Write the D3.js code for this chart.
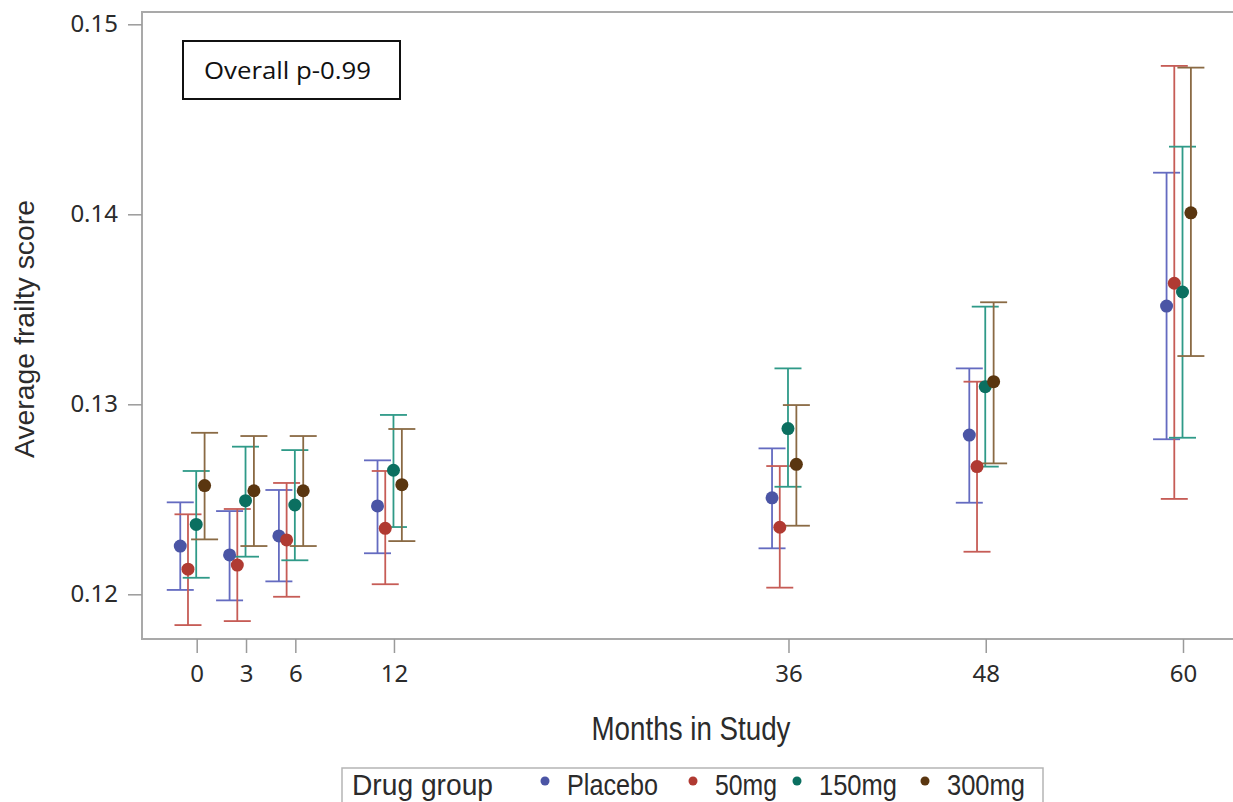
<!DOCTYPE html>
<html><head><meta charset="utf-8">
<script src="https://cdn.jsdelivr.net/npm/d3@7"></script>
<style>body{margin:0;background:#fff}svg{display:block}</style>
</head><body>
<svg id="c" width="1233" height="802"></svg>
<script>
// ---------- data ----------
const months = [0, 3, 6, 12, 36, 48, 60];
const groups = ["Placebo", "50mg", "150mg", "300mg"];

const placeboMean = [0.12254, 0.12207, 0.12307, 0.12465, 0.12508, 0.12838, 0.13517];
const placeboLow  = [0.12023, 0.11968, 0.12068, 0.12216, 0.12242, 0.12482, 0.12816];
const placeboHigh = [0.12484, 0.12438, 0.12549, 0.12705, 0.12768, 0.13189, 0.14219];

const mg50Mean = [0.12132, 0.12154, 0.12286, 0.12347, 0.12353, 0.12672, 0.13637];
const mg50Low  = [0.11838, 0.11859, 0.11987, 0.12053, 0.12035, 0.12224, 0.12502];
const mg50High = [0.12421, 0.12449, 0.12586, 0.12649, 0.12675, 0.13119, 0.14781];

const mg150Mean = [0.12368, 0.12493, 0.12470, 0.12653, 0.12872, 0.13093, 0.13591];
const mg150Low  = [0.12087, 0.12198, 0.12179, 0.12354, 0.12566, 0.12672, 0.12824];
const mg150High = [0.12649, 0.12777, 0.12759, 0.12944, 0.13189, 0.13514, 0.14356];

const mg300Mean = [0.12572, 0.12545, 0.12545, 0.12577, 0.12684, 0.13119, 0.14008];
const mg300Low  = [0.12289, 0.12254, 0.12254, 0.12280, 0.12361, 0.12689, 0.13254];
const mg300High = [0.12850, 0.12833, 0.12833, 0.12870, 0.12996, 0.13537, 0.14772];

const yTicks = [0.12, 0.13, 0.14, 0.15];
const xTicks = [0, 3, 6, 12, 36, 48, 60];
const annotation = "Overall p-0.99";
const legendTitle = "Drug group";

// ---------- style / layout ----------
const dotColors = ["#4b55a5", "#b03a32", "#0b6f60", "#5a3610"];
const barColors = ["#646bc0", "#c65c56", "#2f9a88", "#8a6a44"];
const dodge = [-1.0, -0.53, -0.03, 0.48]; // months offset within a cluster
const series = [
  {mean: placeboMean, low: placeboLow, high: placeboHigh},
  {mean: mg50Mean, low: mg50Low, high: mg50High},
  {mean: mg150Mean, low: mg150Low, high: mg150High},
  {mean: mg300Mean, low: mg300Low, high: mg300High}
];

const svg = d3.select("#c");
const frame = {left: 142, top: 12, right: 1245, bottom: 639};

const x = d3.scaleLinear().domain([0, 60]).range([196.7, 1183]);
const y = d3.scaleLinear().domain([0.12, 0.14]).range([594.3, 214.3]);

// frame
svg.append("rect")
  .attr("x", frame.left).attr("y", frame.top)
  .attr("width", frame.right - frame.left).attr("height", frame.bottom - frame.top)
  .attr("fill", "none").attr("stroke", "#a9a9a9").attr("stroke-width", 2);

// y axis
const yAxis = svg.append("g").attr("transform", `translate(${frame.left},0)`)
  .call(d3.axisLeft(y).tickValues(yTicks).tickFormat(d3.format(".2f")).tickSize(14).tickPadding(10));
yAxis.select(".domain").remove();
yAxis.selectAll(".tick line").attr("stroke", "#9a9a9a").attr("stroke-width", 1.5);
yAxis.selectAll(".tick text").attr("fill", "#2b2b2b")
  .style("font-family", "'Noto Sans', 'Open Sans', sans-serif").style("font-size", "24px");

// x axis
const xAxis = svg.append("g").attr("transform", `translate(0,${frame.bottom})`)
  .call(d3.axisBottom(x).tickValues(xTicks).tickFormat(d3.format("d")).tickSize(14).tickPadding(12));
xAxis.select(".domain").remove();
xAxis.selectAll(".tick line").attr("stroke", "#9a9a9a").attr("stroke-width", 1.5);
xAxis.selectAll(".tick text").attr("fill", "#2b2b2b")
  .style("font-family", "'Noto Sans', 'Open Sans', sans-serif").style("font-size", "24px");

// axis titles
svg.append("text")
  .attr("x", 691).attr("y", 740).attr("text-anchor", "middle")
  .attr("textLength", 199).attr("lengthAdjust", "spacingAndGlyphs")
  .style("font-family", "'Liberation Sans', Arial, sans-serif").style("font-size", "33px")
  .attr("fill", "#2b2b2b").text("Months in Study");

svg.append("text")
  .attr("transform", "translate(34,329) rotate(-90)").attr("text-anchor", "middle")
  .attr("textLength", 258).attr("lengthAdjust", "spacingAndGlyphs")
  .style("font-family", "'Liberation Sans', Arial, sans-serif").style("font-size", "27px")
  .attr("fill", "#2b2b2b").text("Average frailty score");

// error bars and points
const capHalf = 13.5;
series.forEach((s, gi) => {
  const g = svg.append("g");
  const pts = months.map((m, i) => ({m, mean: s.mean[i], low: s.low[i], high: s.high[i]}));
  const cx = d => x(d.m + dodge[gi]);
  g.selectAll("line.v").data(pts).join("line")
    .attr("x1", cx).attr("x2", cx).attr("y1", d => y(d.low)).attr("y2", d => y(d.high))
    .attr("stroke", barColors[gi]).attr("stroke-width", 1.8);
  g.selectAll("line.t").data(pts).join("line")
    .attr("x1", d => cx(d) - capHalf).attr("x2", d => cx(d) + capHalf)
    .attr("y1", d => y(d.high)).attr("y2", d => y(d.high))
    .attr("stroke", barColors[gi]).attr("stroke-width", 1.8);
  g.selectAll("line.b").data(pts).join("line")
    .attr("x1", d => cx(d) - capHalf).attr("x2", d => cx(d) + capHalf)
    .attr("y1", d => y(d.low)).attr("y2", d => y(d.low))
    .attr("stroke", barColors[gi]).attr("stroke-width", 1.8);
});
series.forEach((s, gi) => {
  svg.append("g").selectAll("circle").data(months.map((m, i) => ({m, v: s.mean[i]}))).join("circle")
    .attr("cx", d => x(d.m + dodge[gi])).attr("cy", d => y(d.v)).attr("r", 6.5)
    .attr("fill", dotColors[gi]);
});

// annotation box
svg.append("rect").attr("x", 183).attr("y", 41).attr("width", 217).attr("height", 58)
  .attr("fill", "#fff").attr("stroke", "#111").attr("stroke-width", 2);
svg.append("text").attr("x", 204).attr("y", 79)
  .attr("textLength", 167).attr("lengthAdjust", "spacingAndGlyphs")
  .style("font-family", "'Open Sans', 'Noto Sans', sans-serif").style("font-size", "24px")
  .attr("fill", "#111").text(annotation);

// legend
svg.append("rect").attr("x", 342).attr("y", 768).attr("width", 701).attr("height", 50)
  .attr("fill", "#fff").attr("stroke", "#b5b5b5").attr("stroke-width", 1.5);
const legFont = "'Liberation Sans', Arial, sans-serif";
svg.append("text").attr("x", 352).attr("y", 795)
  .attr("textLength", 141).attr("lengthAdjust", "spacingAndGlyphs")
  .style("font-family", legFont).style("font-size", "30px").attr("fill", "#2b2b2b").text(legendTitle);
const legDotX = [545, 693, 797, 925];
const legTextLen = [91, 62, 78, 78];
groups.forEach((name, gi) => {
  svg.append("circle").attr("cx", legDotX[gi]).attr("cy", 781).attr("r", 4.5).attr("fill", dotColors[gi]);
  svg.append("text").attr("x", legDotX[gi] + 22).attr("y", 795)
    .attr("textLength", legTextLen[gi]).attr("lengthAdjust", "spacingAndGlyphs")
    .style("font-family", legFont).style("font-size", "30px").attr("fill", "#2b2b2b").text(name);
});
</script>
</body></html>
